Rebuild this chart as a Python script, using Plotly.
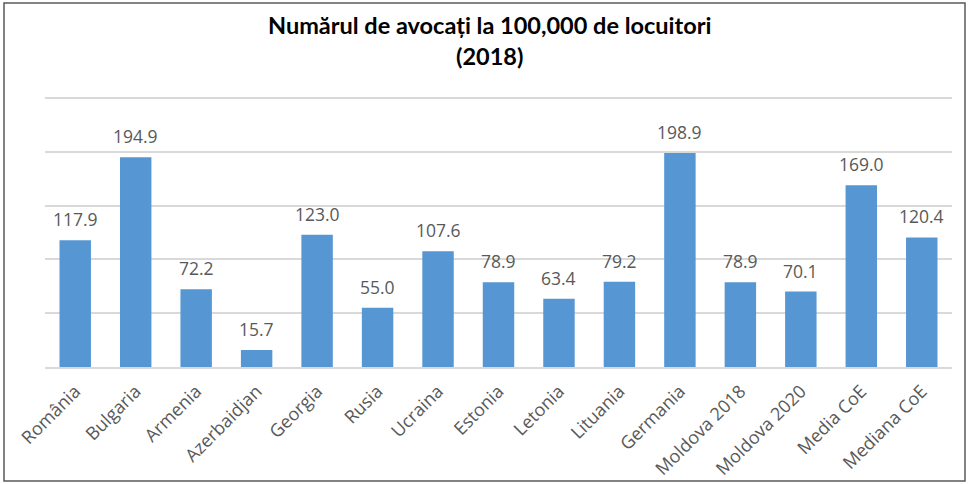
import plotly.graph_objects as go

categories = ["România", "Bulgaria", "Armenia", "Azerbaidjan", "Georgia", "Rusia",
              "Ucraina", "Estonia", "Letonia", "Lituania", "Germania",
              "Moldova 2018", "Moldova 2020", "Media CoE", "Mediana CoE"]
values = [117.9, 194.9, 72.2, 15.7, 123.0, 55.0, 107.6, 78.9, 63.4, 79.2, 198.9,
          78.9, 70.1, 169.0, 120.4]
title_text = "<b>Numărul de avocați la 100,000 de locuitori<br>(2018)</b>"

W, H = 969, 484
ml, mr, mt, mb = 45, 17, 97, 117
pw, ph = W - ml - mr, H - mt - mb

fig = go.Figure(go.Bar(
    x=categories, y=values,
    marker=dict(color="#5596d3", line=dict(width=0)),
    cliponaxis=False,
))

def px_x(p):
    return (p - ml) / pw

def px_y(p):
    return (H - mb - p) / ph

annotations = [dict(text=title_text, xref="paper", yref="paper",
                    x=px_x(W / 2 + 5), xanchor="center",
                    y=px_y(9), yanchor="top", showarrow=False,
                    font=dict(family="Lato, sans-serif", size=23.5, color="#000000"))]
for c, v in zip(categories, values):
    annotations.append(dict(x=c, y=v, xref="x", yref="y", text=f"{v:.1f}",
                            showarrow=False, yanchor="bottom", yshift=7,
                            font=dict(family="Open Sans, sans-serif", size=17.5,
                                      color="#595959")))

fig.update_layout(
    width=W, height=H,
    margin=dict(l=ml, r=mr, t=mt, b=mb, autoexpand=False),
    paper_bgcolor="white", plot_bgcolor="white",
    bargap=0.48,
    showlegend=False,
    annotations=annotations,
    xaxis=dict(tickangle=-45, showgrid=False, showline=True, linecolor="#d9d9d9",
               linewidth=1.5, ticks="", automargin=False, ticklabelstandoff=5,
               tickfont=dict(family="Open Sans, sans-serif", size=18, color="#595959")),
    yaxis=dict(range=[0, 251], tickvals=[50, 100, 150, 200, 250], showgrid=True,
               gridcolor="#d9d9d9", gridwidth=1.5, showticklabels=False,
               zeroline=False, ticks="", automargin=False),
    shapes=[dict(type="rect", xref="paper", yref="paper",
                 x0=px_x(4), x1=px_x(965), y0=px_y(481), y1=px_y(3),
                 line=dict(color="#595959", width=1.5), fillcolor="rgba(0,0,0,0)",
                 layer="below")],
)

fig.write_html("out.html", config={"displayModeBar": False},
               post_script="document.body.style.margin='0px';")
